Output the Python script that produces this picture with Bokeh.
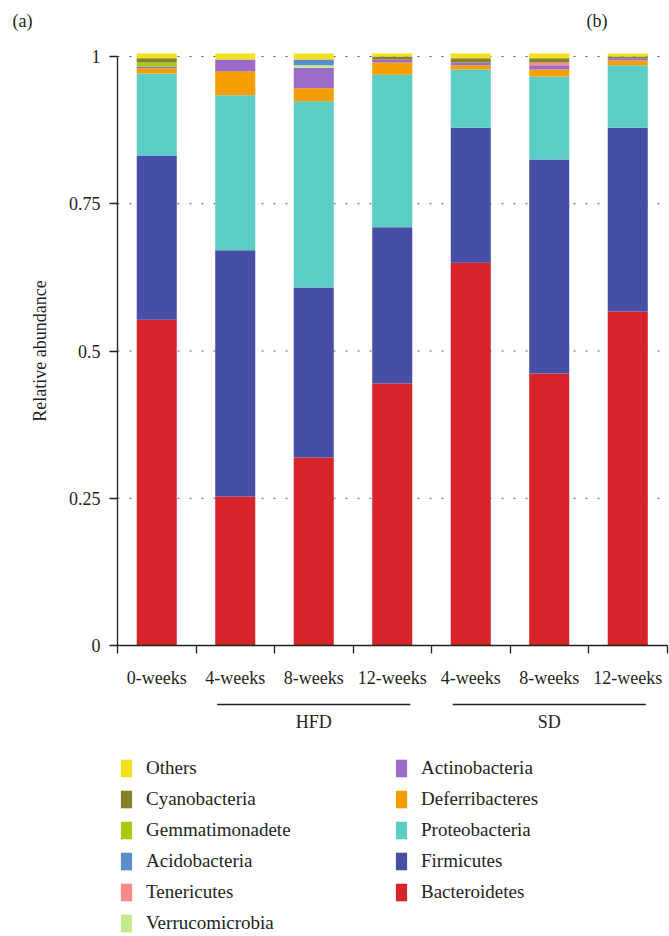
from bokeh.plotting import figure
from bokeh.models import (Range1d, FixedTicker, ColumnDataSource, Legend, LegendItem,
                          LinearAxis)
from bokeh.core.properties import value
from bokeh.embed import file_html
from bokeh.resources import INLINE

# ---------------- data ----------------
categories = ["0-weeks", "4-weeks", "8-weeks", "12-weeks", "4-weeks", "8-weeks", "12-weeks"]
category_group = ["", "HFD", "HFD", "HFD", "SD", "SD", "SD"]
groups = ["HFD", "SD"]
panel_labels = ["(a)", "(b)"]

# phylum relative abundance per sample (bottom -> top of each stack)
bacteroidetes   = [0.553, 0.253, 0.319, 0.445, 0.650, 0.462, 0.567]
firmicutes      = [0.279, 0.418, 0.289, 0.265, 0.229, 0.363, 0.312]
proteobacteria  = [0.139, 0.263, 0.316, 0.259, 0.099, 0.141, 0.106]
deferribacteres = [0.009, 0.041, 0.022, 0.021, 0.007, 0.012, 0.008]
actinobacteria  = [0.003, 0.020, 0.035, 0.005, 0.005, 0.007, 0.004]
verrucomicrobia = [0.000, 0.000, 0.004, 0.000, 0.000, 0.000, 0.000]
tenericutes     = [0.000, 0.000, 0.000, 0.000, 0.000, 0.005, 0.000]
acidobacteria   = [0.000, 0.000, 0.010, 0.000, 0.000, 0.000, 0.000]
gemmatimonadete = [0.007, 0.000, 0.000, 0.000, 0.000, 0.000, 0.000]
cyanobacteria   = [0.007, 0.000, 0.000, 0.005, 0.007, 0.007, 0.003]
others          = [0.008, 0.010, 0.010, 0.005, 0.008, 0.008, 0.005]

phyla = ["Bacteroidetes", "Firmicutes", "Proteobacteria", "Deferribacteres",
         "Actinobacteria", "Verrucomicrobia", "Tenericutes", "Acidobacteria",
         "Gemmatimonadete", "Cyanobacteria", "Others"]
phyla_values = [bacteroidetes, firmicutes, proteobacteria, deferribacteres,
                actinobacteria, verrucomicrobia, tenericutes, acidobacteria,
                gemmatimonadete, cyanobacteria, others]
colors = ["#D7232A", "#464EA6", "#5BCDC4", "#F59E00",
          "#9A6BC8", "#C5E88A", "#F88A8A", "#5B8DC8",
          "#A5CD0E", "#82822B", "#F2E01B"]
legend_order = ["Others", "Cyanobacteria", "Gemmatimonadete", "Acidobacteria",
                "Tenericutes", "Verrucomicrobia", "Actinobacteria", "Deferribacteres",
                "Proteobacteria", "Firmicutes", "Bacteroidetes"]

y_ticks = [0, 0.25, 0.5, 0.75, 1]
y_tick_labels = ["0", "0.25", "0.5", "0.75", "1"]

# ---------------- style / geometry ----------------
FONT = "Liberation Serif"
INK = "#231f20"
W, H = 669, 936
AXIS_LEFT_PX = 117      # x pixel of the y axis
ZERO_PX = 645           # y pixel of value 0
CAT_PX = 78.5           # pixels per category
UNIT_PX = 589           # pixels per unit of abundance

positions = list(range(len(categories)))
n = len(categories)
x_start = -0.5 - AXIS_LEFT_PX / CAT_PX
x_end = -0.5 + (W - AXIS_LEFT_PX) / CAT_PX
y_start = -(H - ZERO_PX) / UNIT_PX
y_end = ZERO_PX / UNIT_PX

p = figure(width=W, height=H, x_range=Range1d(x_start, x_end),
           y_range=Range1d(y_start, y_end),
           output_backend="svg", toolbar_location=None, title=None,
           x_axis_location=None, y_axis_location=None,
           min_border_left=0, min_border_right=0, min_border_top=0, min_border_bottom=0)
p.extra_x_ranges = {"px": Range1d(0, W)}
p.extra_y_ranges = {"px": Range1d(H, 0)}
p.outline_line_color = None
p.grid.visible = False
p.background_fill_color = "white"

# dotted reference lines
p.segment(x0=[-0.5] * (len(y_ticks) - 1), x1=[x_end] * (len(y_ticks) - 1),
          y0=y_ticks[1:], y1=y_ticks[1:], line_color="#555555",
          line_dash="2 10", line_width=1)

# stacked bars
src = ColumnDataSource(dict(x=positions, **{nm: v for nm, v in zip(phyla, phyla_values)}))
bar_renderers = p.vbar_stack(phyla, x="x", width=0.51, source=src,
                             fill_color=colors, line_color=None)

# x axis at value 0
xa = LinearAxis(fixed_location=0, bounds=(-0.5, n - 0.5))
xa.ticker = FixedTicker(ticks=positions,
                        minor_ticks=[q - 0.5 for q in positions] + [positions[-1] + 0.5])
xa.major_label_overrides = {q: c for q, c in zip(positions, categories)}
xa.major_tick_out = 0
xa.major_tick_in = 0
xa.minor_tick_out = 8
xa.minor_tick_in = 0
xa.minor_tick_line_color = INK
xa.minor_tick_line_width = 1.3
xa.axis_line_color = INK
xa.axis_line_width = 1.3
xa.major_label_standoff = 14
xa.major_label_text_font = FONT
xa.major_label_text_font_size = "18px"
xa.major_label_text_color = INK
p.add_layout(xa, "below")

# y axis at left category boundary
ya = LinearAxis(fixed_location=-0.5, bounds=(0, 1))
ya.ticker = FixedTicker(ticks=y_ticks, minor_ticks=[])
ya.major_label_overrides = {t: l for t, l in zip(y_ticks, y_tick_labels)}
ya.major_tick_out = 8
ya.major_tick_in = 0
ya.major_tick_line_color = INK
ya.major_tick_line_width = 1.3
ya.minor_tick_line_color = None
ya.axis_line_color = INK
ya.axis_line_width = 1.3
ya.major_label_standoff = 9
ya.major_label_text_font = FONT
ya.major_label_text_font_size = "18px"
ya.major_label_text_color = INK
ya.axis_label = "Relative abundance"
ya.axis_label_text_font = FONT
ya.axis_label_text_font_size = "18px"
ya.axis_label_text_font_style = "normal"
ya.axis_label_text_color = INK
ya.axis_label_standoff = 16
p.add_layout(ya, "left")

# group brackets
g_first = [min(i for i, g in enumerate(category_group) if g == grp) for grp in groups]
g_last = [max(i for i, g in enumerate(category_group) if g == grp) for grp in groups]
g_mid = [(a + b) / 2 for a, b in zip(g_first, g_last)]
pad = 0.23
p.segment(x0=[a - pad for a in g_first], y0=[704] * len(groups),
          x1=[b + pad for b in g_last], y1=[704] * len(groups),
          y_range_name="px", line_color=INK, line_width=1.3)
p.text(x=g_mid, y=[721] * len(groups), text=groups, y_range_name="px",
       text_font=value(FONT), text_font_size=value("18px"), text_color=INK,
       text_align="center", text_baseline="middle")

# panel labels
p.text(x=[12, 586], y=[20, 20], text=panel_labels, x_range_name="px", y_range_name="px",
       text_font=value(FONT), text_font_size=value("18px"), text_color=INK,
       text_align="left", text_baseline="middle")

# legend
items = [LegendItem(label=nm, renderers=[bar_renderers[phyla.index(nm)]])
         for nm in legend_order]
legend = Legend(items=items, location=(119, 2), nrows=6, orientation="vertical",
                glyph_width=14, glyph_height=22, label_standoff=13,
                label_width=239, label_height=22, spacing=9,
                padding=0, margin=0, border_line_color=None,
                background_fill_alpha=0,
                label_text_font=FONT, label_text_font_size="19px",
                label_text_color=INK)
p.add_layout(legend)

open("out.html", "w").write(file_html(p, INLINE))
